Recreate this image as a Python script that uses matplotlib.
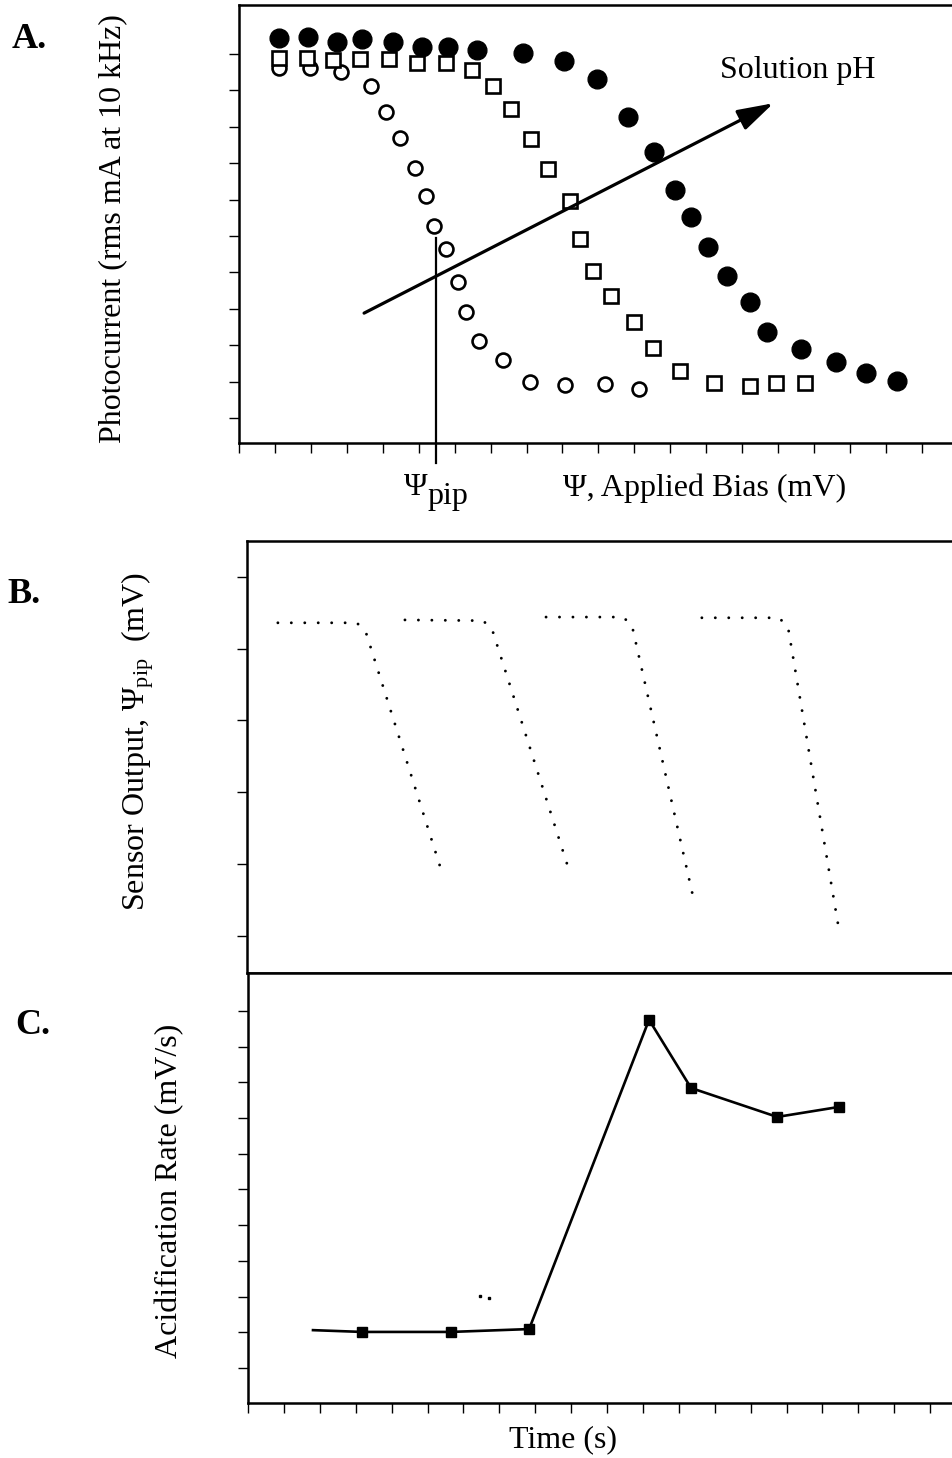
import matplotlib
matplotlib.use("Agg")
import matplotlib.pyplot as plt

plt.rcParams['font.family'] = ['Liberation Serif', 'DejaVu Serif']
plt.rcParams['mathtext.fontset'] = 'custom'
plt.rcParams['mathtext.rm'] = 'Liberation Serif'

# --- A: photocurrent vs applied bias, three solution pH values
low_ph_x = [1.11, 1.98, 2.84, 3.68, 4.09, 4.48, 4.90, 5.21, 5.43, 5.77, 6.10, 6.32,
            6.69, 7.35, 8.11, 9.08, 10.17, 11.14]
low_ph_y = [9.62, 9.62, 9.51, 9.12, 8.41, 7.69, 6.87, 6.10, 5.27, 4.64, 3.74, 2.91,
            2.12, 1.59, 0.99, 0.91, 0.93, 0.80]

mid_ph_x = [1.11, 1.89, 2.62, 3.37, 4.18, 4.96, 5.77, 6.49, 7.08, 7.58, 8.13, 8.61,
            9.22, 9.50, 9.86, 10.36, 11.00, 11.53, 12.26, 13.23, 14.21, 14.93, 15.74]
mid_ph_y = [9.89, 9.89, 9.84, 9.86, 9.86, 9.75, 9.75, 9.56, 9.12, 8.49, 7.66, 6.84,
            5.96, 4.92, 4.04, 3.35, 2.64, 1.92, 1.29, 0.96, 0.88, 0.96, 0.96]

high_ph_x = [1.11, 1.92, 2.73, 3.43, 4.29, 5.10, 5.82, 6.63, 7.91, 9.03, 9.97, 10.81,
             11.56, 12.14, 12.59, 13.04, 13.57, 14.23, 14.68, 15.65, 16.60, 17.44, 18.30]
high_ph_y = [10.44, 10.47, 10.33, 10.41, 10.33, 10.19, 10.19, 10.11, 10.03, 9.81, 9.31,
             8.27, 7.31, 6.26, 5.52, 4.70, 3.90, 3.19, 2.36, 1.90, 1.54, 1.24, 1.02]

psi_pip = 5.49
psi_pip_top = 4.95
ph_arrow_start = (3.48, 2.88)
ph_arrow_end = (14.87, 8.65)

# --- B: sensor output traces (stop-flow cycles)
cycles_x = [[0.86, 3.06, 3.31, 5.40],
            [4.40, 6.57, 6.82, 8.94],
            [8.33, 10.47, 10.72, 12.40],
            [12.67, 14.82, 15.07, 16.46]]
cycles_y = [[4.36, 4.36, 4.23, 0.93],
            [4.40, 4.39, 4.28, 0.96],
            [4.44, 4.44, 4.33, 0.60],
            [4.43, 4.43, 4.30, 0.17]]

# --- C: acidification rate
rate_x = [1.81, 3.18, 5.65, 7.83, 11.17, 12.34, 14.74, 16.46]
rate_y = [1.06, 1.01, 1.01, 1.09, 9.75, 7.84, 7.03, 7.31]
stray_x = [6.46, 6.71]
stray_y = [2.02, 1.96]

W, H = 952, 1458
fig = plt.figure(figsize=(W / 100, H / 100), dpi=100)


def box(left, top, right, bottom):
    return [left / W, 1 - bottom / H, (right - left) / W, (bottom - top) / H]


def style(ax):
    for s in ax.spines.values():
        s.set_linewidth(1.8)
    ax.spines['right'].set_visible(False)
    ax.tick_params(direction='out', length=7.5, width=1.0, labelleft=False, labelbottom=False)


axA = fig.add_axes(box(239, 5, 965, 443))
axA.plot(high_ph_x, high_ph_y, 'o', color='black', ms=13.5, ls='none', zorder=3)
axA.plot(low_ph_x, low_ph_y, 'o', color='black', mfc='white', ms=10, mew=1.9, ls='none', zorder=4)
axA.plot(mid_ph_x, mid_ph_y, 's', color='black', mfc='white', ms=10, mew=1.9, ls='none', zorder=5)
axA.annotate('', xy=ph_arrow_end, xytext=ph_arrow_start,
             arrowprops=dict(arrowstyle='-|>,head_length=1.1,head_width=0.33',
                             mutation_scale=20, lw=2.3, color='black',
                             shrinkA=0, shrinkB=0), zorder=6)
axA.plot([psi_pip, psi_pip], [psi_pip_top, -1.25], color='black', lw=1.6, clip_on=False, zorder=6)
axA.text(13.37, 9.56, 'Solution pH', fontsize=23, ha='left', va='center')
axA.set_xlim(0, 20.2)
axA.set_ylim(-0.69, 11.35)
axA.set_xticks(range(0, 21))
axA.set_yticks(range(0, 11))
style(axA)

axB = fig.add_axes(box(247, 541, 965, 973))
for cx, cy in zip(cycles_x, cycles_y):
    axB.plot(cx, cy, color='black', lw=2.1, ls=(0, (0.01, 4.6)), dash_capstyle='round')
axB.set_xlim(0, 20)
axB.set_ylim(-0.52, 5.50)
axB.set_yticks(range(0, 6))
axB.set_xticks([])
style(axB)
axB.tick_params(bottom=False)

axC = fig.add_axes(box(248, 973, 965, 1403))
axC.plot(rate_x, rate_y, color='black', lw=1.9, marker='s', ms=6.5,
         markevery=list(range(1, len(rate_x))))
axC.plot(stray_x, stray_y, 's', color='black', ms=1.8, ls='none')
axC.set_xlim(0, 19.97)
axC.set_ylim(-0.98, 11.06)
axC.set_xticks(range(0, 20))
axC.set_yticks(range(0, 11))
style(axC)


def px(x, y):
    return x / W, 1 - y / H


fig.text(*px(12, 48), 'A.', fontsize=26, weight='bold', va='baseline')
fig.text(*px(7, 603), 'B.', fontsize=26, weight='bold', va='baseline')
fig.text(*px(15, 1034), 'C.', fontsize=26, weight='bold', va='baseline')

fig.text(*px(113, 229), 'Photocurrent (rms mA at 10 kHz)', fontsize=23,
         rotation=90, ha='center', va='center')
fig.text(*px(138, 741), r'Sensor Output, $\mathregular{Ψ_{pip}}$  (mV)', fontsize=23,
         rotation=90, ha='center', va='center')
fig.text(*px(170, 1191), 'Acidification Rate (mV/s)', fontsize=23,
         rotation=90, ha='center', va='center')

fig.text(*px(705, 488), 'Ψ, Applied Bias (mV)', fontsize=23, ha='center', va='center')
fig.text(*px(416, 495), 'Ψ', fontsize=23, ha='center', va='baseline')
fig.text(*px(427, 504), 'pip', fontsize=23, ha='left', va='baseline')
fig.text(*px(563, 1440), 'Time (s)', fontsize=23, ha='center', va='center')

fig.savefig('out.png', dpi=100)
